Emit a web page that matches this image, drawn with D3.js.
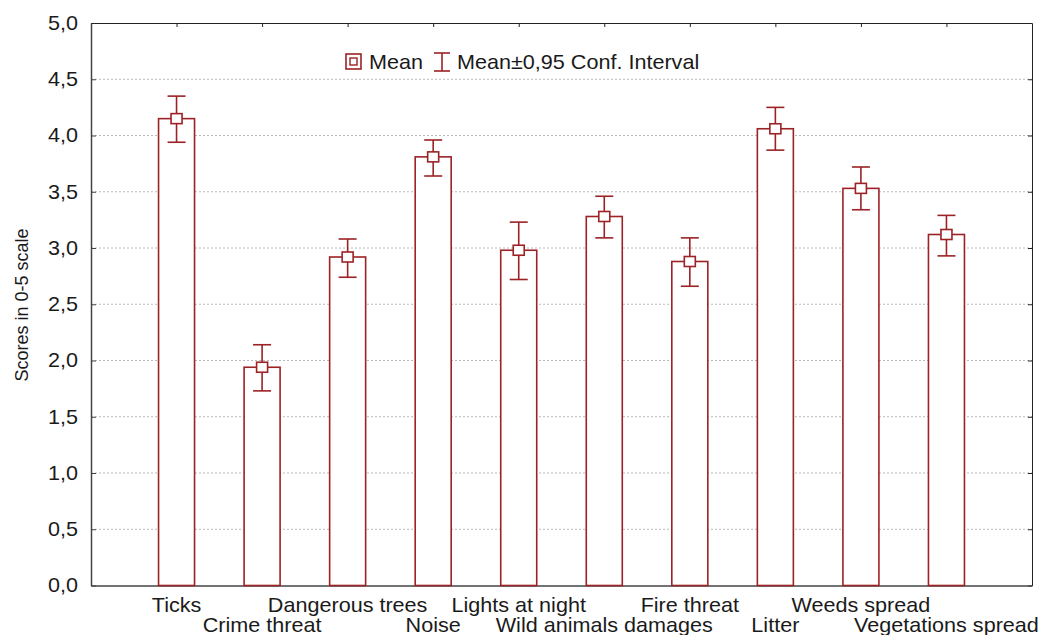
<!DOCTYPE html>
<html lang="en">
<head>
<meta charset="UTF-8">
<title>Scores</title>
<script src="https://d3js.org/d3.v7.min.js"></script>
<style>
  body { margin: 0; background: #fff; }
  svg text { font-family: "Liberation Sans", Arial, sans-serif; fill: #1a1a1a; }
  .grid line { stroke: #b8b8b8; stroke-dasharray: 2,2; }
</style>
</head>
<body>
<svg id="chart" width="1045" height="635"></svg>
<script>
const categories = ["Ticks", "Crime threat", "Dangerous trees", "Noise", "Lights at night",
  "Wild animals damages", "Fire threat", "Litter", "Weeds spread", "Vegetations spread"];
const means = [4.15, 1.94, 2.92, 3.81, 2.98, 3.28, 2.88, 4.06, 3.53, 3.12];
const upper = [4.35, 2.14, 3.08, 3.96, 3.23, 3.46, 3.09, 4.25, 3.72, 3.29];
const lower = [3.94, 1.73, 2.74, 3.64, 2.72, 3.09, 2.66, 3.87, 3.34, 2.93];
const yTicks = [0, 0.5, 1, 1.5, 2, 2.5, 3, 3.5, 4, 4.5, 5];

const red = "#9c2226";
const svg = d3.select("#chart");
const plotL = 91, plotR = 1032, plotT = 23, plotB = 585.5;
const fs = 20, sx = 1.08; // font size, slight horizontal stretch of the original

// categories sit at 1..10 on a 0..11 axis
const x = d3.scaleLinear().domain([0, categories.length + 1]).range([plotL, plotR]);
const y = d3.scaleLinear().domain([0, 5]).range([plotB, plotT]);
const fmt = d => d.toFixed(1).replace(".", ",");
const barW = 36;

// grid
svg.append("g").attr("class", "grid")
  .selectAll("line").data(yTicks.filter(d => d > 0 && d < 5)).join("line")
  .attr("x1", plotL).attr("x2", plotR)
  .attr("y1", d => y(d)).attr("y2", d => y(d));

// axes
const yAxis = svg.append("g").attr("transform", `translate(${plotL},0)`)
  .call(d3.axisLeft(y).tickValues(yTicks).tickFormat(fmt).tickSizeInner(-5).tickSizeOuter(0).tickPadding(12));
yAxis.select(".domain").attr("stroke", "#444").attr("stroke-width", 1.5);
yAxis.selectAll(".tick line").attr("stroke", "#444");
yAxis.selectAll("text").attr("font-size", fs).attr("fill", "#1a1a1a")
  .attr("transform", `scale(${sx},1)`);

const yRight = svg.append("g").attr("transform", `translate(${plotR},0)`)
  .call(d3.axisRight(y).tickValues(yTicks).tickFormat("").tickSizeInner(-4).tickSizeOuter(0));
yRight.select(".domain").attr("stroke", "#222");
yRight.selectAll(".tick line").attr("stroke", "#222");

const catPos = categories.map((c, i) => i + 1);
const xTop = svg.append("g").attr("transform", `translate(0,${plotT})`)
  .call(d3.axisTop(x).tickValues(catPos).tickFormat("").tickSizeInner(-4).tickSizeOuter(0));
xTop.select(".domain").attr("stroke", "#222");
xTop.selectAll(".tick line").attr("stroke", "#222");

const xBottom = svg.append("g").attr("transform", `translate(0,${plotB})`)
  .call(d3.axisBottom(x).tickValues(catPos).tickFormat("").tickSizeInner(-4).tickSizeOuter(0));
xBottom.select(".domain").attr("stroke", "#444").attr("stroke-width", 1.5);
xBottom.selectAll(".tick line").attr("stroke", "#444");

// category labels, alternating rows
svg.append("g").selectAll("text").data(categories).join("text")
  .attr("transform", (d, i) => `translate(${x(i + 1)},${i % 2 === 0 ? 611.5 : 632}) scale(${sx},1)`)
  .attr("text-anchor", "middle")
  .attr("font-size", fs)
  .text(d => d);

// y label
svg.append("text")
  .attr("transform", `translate(28,305) rotate(-90)`)
  .attr("text-anchor", "middle")
  .attr("font-size", 18)
  .text("Scores in 0-5 scale");

// bars
const g = svg.append("g");
g.selectAll("rect.bar").data(means).join("rect")
  .attr("class", "bar")
  .attr("x", (d, i) => x(i + 1) - barW / 2)
  .attr("width", barW)
  .attr("y", d => y(d))
  .attr("height", d => plotB - y(d))
  .attr("fill", "#fff")
  .attr("stroke", red)
  .attr("stroke-width", 1.6);

// error bars
const eb = g.selectAll("g.err").data(means).join("g").attr("class", "err")
  .attr("stroke", red).attr("stroke-width", 1.6);
eb.append("line")
  .attr("x1", (d, i) => x(i + 1)).attr("x2", (d, i) => x(i + 1))
  .attr("y1", (d, i) => y(upper[i])).attr("y2", (d, i) => y(lower[i]));
eb.append("line")
  .attr("x1", (d, i) => x(i + 1) - 9).attr("x2", (d, i) => x(i + 1) + 9)
  .attr("y1", (d, i) => y(upper[i])).attr("y2", (d, i) => y(upper[i]));
eb.append("line")
  .attr("x1", (d, i) => x(i + 1) - 9).attr("x2", (d, i) => x(i + 1) + 9)
  .attr("y1", (d, i) => y(lower[i])).attr("y2", (d, i) => y(lower[i]));
eb.append("rect")
  .attr("x", (d, i) => x(i + 1) - 5.5)
  .attr("y", d => y(d) - 5)
  .attr("width", 11).attr("height", 10)
  .attr("fill", "#fff");

// legend
const lg = svg.append("g");
lg.append("rect").attr("x", 346).attr("y", 54).attr("width", 15).attr("height", 15)
  .attr("fill", "#fff").attr("stroke", red).attr("stroke-width", 1.6);
lg.append("rect").attr("x", 350).attr("y", 58).attr("width", 7).attr("height", 7)
  .attr("fill", "#fff").attr("stroke", red).attr("stroke-width", 1.4);
lg.append("text").attr("transform", `translate(369,69) scale(${sx},1)`).attr("font-size", fs).text("Mean");
const lgE = lg.append("g").attr("stroke", red).attr("stroke-width", 1.6);
lgE.append("line").attr("x1", 442).attr("x2", 442).attr("y1", 53).attr("y2", 71);
lgE.append("line").attr("x1", 434).attr("x2", 450).attr("y1", 53).attr("y2", 53);
lgE.append("line").attr("x1", 434).attr("x2", 450).attr("y1", 71).attr("y2", 71);
lg.append("text").attr("transform", `translate(457,69) scale(${sx},1)`).attr("font-size", fs).text("Mean±0,95 Conf. Interval");
</script>
</body>
</html>
